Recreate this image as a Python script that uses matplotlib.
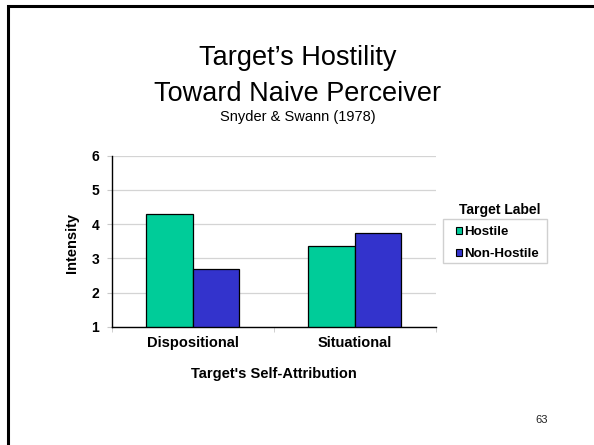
import matplotlib
matplotlib.use("Agg")
import matplotlib.pyplot as plt
from matplotlib.patches import Rectangle, Patch
import numpy as np

plt.rcParams['font.family'] = ['Liberation Sans', 'DejaVu Sans']

categories = ["Dispositional", "Situational"]
series_names = ["Hostile", "Non-Hostile"]
hostile = [4.3, 3.35]
non_hostile = [2.7, 3.75]
yticks = [1, 2, 3, 4, 5, 6]
colors = ["#00CC99", "#3333CC"]

W, H = 594, 445
fig = plt.figure(figsize=(W / 100, H / 100), dpi=100)

def fx(px):
    return px / W

def fy(py):
    return 1 - py / H

# slide frame
fig.patches.append(Rectangle((fx(8), -0.1), 1.2, fy(6) + 0.1, transform=fig.transFigure,
                             fill=False, edgecolor="black", linewidth=2.2))

ax = fig.add_axes([fx(111.7), fy(327), (436 - 111.7) / W, (327 - 155.7) / H])
x = np.arange(len(categories))
w = 0.287
ax.bar(x - w / 2, hostile, w, bottom=0, color=colors[0], edgecolor="#000000", linewidth=0.9,
       label=series_names[0], zorder=3)
ax.bar(x + w / 2, non_hostile, w, bottom=0, color=colors[1], edgecolor="#000000", linewidth=0.9,
       label=series_names[1], zorder=3)
ax.set_ylim(1, 6)
ax.set_xlim(-0.5, 1.5)
ax.set_yticks(yticks)
ax.set_xticks(x)
ax.set_xticklabels(categories, fontsize=10.5, fontweight="bold")
ax.set_xticks([-0.5, 0.5, 1.5], minor=True)
ax.tick_params(axis="x", which="major", length=0, pad=6.8)
ax.tick_params(axis="x", which="minor", length=3.4, color="#c8c8c8", direction="out")
ax.tick_params(axis="y", length=3.6, color="#c8c8c8", pad=5.3, labelsize=10)
for lbl in ax.get_yticklabels():
    lbl.set_fontweight("bold")
ax.grid(axis="y", color="#d4d4d4", linewidth=0.9, zorder=0)
ax.set_axisbelow(True)
for s in ["top", "right"]:
    ax.spines[s].set_visible(False)
ax.spines["left"].set_linewidth(1.0)
ax.spines["bottom"].set_linewidth(1.0)
ax.spines["bottom"].set_zorder(4)

ax.set_ylabel("Intensity", fontsize=10.5, fontweight="bold", va="center")
ax.yaxis.set_label_coords((71.7 - 111.7) / (436 - 111.7), 0.49)
ax.set_xlabel("Target's Self-Attribution", fontsize=10.5, fontweight="bold", va="center")
ax.xaxis.set_label_coords(0.5, (327 - 374) / (327 - 155.7))

# titles
fig.text(fx(298), fy(65), "Target\u2019s Hostility", ha="center", va="baseline", fontsize=19.5)
fig.text(fx(298), fy(101), "Toward Naive Perceiver", ha="center", va="baseline", fontsize=19.5)
fig.text(fx(298), fy(121.5), "Snyder & Swann (1978)", ha="center", va="baseline", fontsize=10.5)

# legend
fig.text(fx(499.5), fy(210), "Target Label", ha="center", va="center", fontsize=10,
         fontweight="bold")
fig.patches.append(Rectangle((fx(442.7), fy(263.3)), (547.3 - 442.7) / W, (263.3 - 219) / H,
                             transform=fig.transFigure, fill=False, edgecolor="#d0d0d0",
                             linewidth=1.0))
handles = [Patch(facecolor=colors[i], edgecolor="black", linewidth=0.8, label=series_names[i])
           for i in range(2)]
leg = fig.legend(handles=handles, loc="upper left", bbox_to_anchor=(fx(455.7), fy(226)),
                 bbox_transform=fig.transFigure, frameon=False,
                 fontsize=9.6, handlelength=0.45, handleheight=0.45,
                 handletextpad=0.17, labelspacing=0.74, borderpad=0, borderaxespad=0)
for t in leg.get_texts():
    t.set_fontweight("bold")

fig.text(fx(541.5), fy(423.3), "63", ha="center", va="baseline", fontsize=8, color="#222222")

fig.savefig("out.png", dpi=100)
